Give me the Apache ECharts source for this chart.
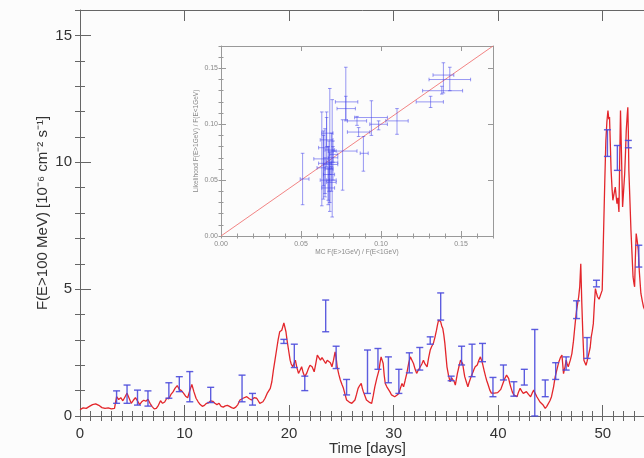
<!DOCTYPE html>
<html><head><meta charset="utf-8">
<script src="https://cdn.jsdelivr.net/npm/echarts@6/dist/echarts.min.js"></script>
<style>html,body{margin:0;padding:0;background:#fcfcfc}#c{width:644px;height:458px}</style>
</head><body><div id="c"></div>
<script>
// ---- light curve (days, flux 1e-6 cm^-2 s^-1) ----
const times = [0,0.3,0.6,0.9,1.2,1.5,1.8,2.1,2.4,2.7,3.0,3.3,
3.5,3.7,3.9,4.1,4.3,4.5,4.7,4.9,5.1,5.3,5.5,5.7,5.9,6.1,6.3,6.5,6.7,6.9,7.1,7.3,7.5,7.7,7.9,8.1,8.3,8.5,8.7,8.9,9.1,9.3,9.5,9.7,9.9,10.1,10.3,10.5,10.7,10.9,11.1,11.3,11.5,11.7,11.9,12.1,12.3,12.5,12.7,12.9,13.1,13.3,13.5,13.7,13.9,14.1,14.3,14.5,14.7,14.9,15.1,
15.3,15.6,15.95,16.2,16.4,16.65,16.9,17.05,17.2,17.5,17.7,17.9,18.05,18.2,18.35,18.5,18.65,18.8,18.95,19.1,19.3,19.5,19.7,19.8,19.9,20.1,20.2,20.35,20.5,20.6,20.75,20.9,21.05,21.2,21.35,21.5,21.7,21.85,22.0,22.2,22.4,22.55,22.7,22.85,23.0,23.15,23.3,23.5,23.65,23.8,23.95,24.1,24.25,24.4,24.5,24.6,24.75,24.9,25.05,25.2,25.35,25.5,25.75,26.0,26.15,26.3,26.45,26.6,26.75,26.9,27.0,27.1,27.25,27.4,27.65,27.9,28.05,28.2,28.4,28.6,28.7,28.8,28.9,29.0,29.1,29.2,29.35,29.5,29.65,29.8,29.95,30.1,30.3,30.5,30.65,30.8,30.95,31.1,31.26,31.45,
31.6,31.75,31.9,32.05,32.2,32.35,32.5,32.7,32.85,33.0,33.2,33.35,33.5,33.65,33.8,33.95,34.1,34.2,34.3,34.4,34.5,34.6,34.7,34.8,34.9,35.0,35.1,35.25,35.4,35.55,35.7,35.8,35.9,36.0,36.1,36.25,36.4,36.5,36.6,36.7,36.8,36.95,37.1,37.2,37.3,37.45,37.6,37.7,37.8,37.9,38.0,38.15,38.3,38.4,38.5,38.65,38.8,38.9,39.0,39.1,39.2,39.35,39.5,39.65,39.8,39.95,40.1,40.25,40.4,40.6,40.8,40.9,41.0,41.1,41.2,41.35,41.5,41.65,41.8,41.95,42.1,42.25,42.4,42.55,42.7,42.9,43.1,43.25,43.4,43.55,43.7,43.85,44.0,
44.15,44.3,44.5,44.65,44.8,44.95,45.1,45.3,45.45,45.6,45.8,45.95,46.1,46.25,46.4,46.5,46.6,46.7,46.9,47.05,47.2,47.3,47.4,47.5,47.6,47.7,47.8,47.9,48.0,48.1,48.2,48.3,48.4,48.5,48.65,48.8,48.9,49.0,49.1,49.2,49.3,49.4,49.5,49.65,49.8,49.95,50.1,50.2,50.3,50.4,50.5,50.58,50.65,50.72,50.8,50.9,50.97,51.1,51.2,51.3,51.36,51.45,51.55,51.62,51.7,51.8,51.9,52.0,52.1,52.18,52.25,52.35,52.4,52.45,52.5,52.6,52.7,52.8,52.9,53.0,53.05,53.12,53.2,53.3,53.4,53.5,53.65,53.8,53.9,54.1,54.3];
const flux = [0.25,0.32,0.3,0.38,0.45,0.48,0.42,0.33,0.3,0.32,0.28,0.3,
0.76,0.65,0.72,0.6,0.75,0.9,0.7,0.5,0.62,0.72,0.6,0.45,0.56,0.62,0.58,0.66,0.5,0.37,0.28,0.3,0.42,0.6,0.5,0.55,0.7,0.68,0.85,0.95,1.1,1.2,1.05,1.0,0.9,0.78,0.72,1.0,1.24,0.95,0.7,0.56,0.45,0.38,0.42,0.5,0.52,0.6,0.58,0.5,0.45,0.5,0.38,0.35,0.4,0.42,0.38,0.33,0.3,0.35,0.45,
0.63,0.7,0.76,0.68,0.63,0.72,0.7,0.6,0.5,0.56,0.7,0.89,0.95,1.09,1.35,1.81,2.2,2.6,3.0,3.32,3.38,3.67,3.32,3.0,2.73,2.2,2.05,1.94,2.1,2.2,1.9,1.68,1.8,1.94,1.7,1.55,1.7,1.87,2.0,1.94,1.74,2.05,2.4,2.3,2.2,2.3,2.27,2.07,2.2,2.27,2.1,1.94,2.2,2.53,2.3,1.94,1.65,1.42,1.25,1.09,0.85,0.63,0.55,0.5,0.55,0.63,0.85,1.09,1.2,1.28,1.1,0.96,0.8,0.63,0.55,0.5,0.8,1.15,1.5,1.81,2.1,2.33,2.2,2.07,1.6,1.28,1.15,1.09,0.95,0.83,0.8,0.76,0.82,0.89,1.1,1.28,1.15,1.4,1.68,2.1,
2.33,2.2,2.07,1.85,1.68,1.8,1.87,2.05,2.2,2.05,1.94,2.3,2.6,2.75,2.86,3.1,3.38,3.6,3.78,3.72,3.71,3.55,3.45,3.2,2.86,2.4,1.94,1.6,1.35,1.5,1.55,1.35,1.22,1.45,1.68,1.95,2.2,2.15,2.07,1.8,1.55,1.35,1.15,1.3,1.42,1.6,1.74,1.85,1.94,2.0,2.01,2.2,2.33,2.2,2.07,1.8,1.55,1.4,1.28,1.15,1.02,0.9,0.83,0.9,0.96,0.92,0.89,1.05,1.22,1.45,1.61,1.55,1.48,1.3,1.15,0.95,0.83,0.8,0.76,0.95,1.09,0.98,0.89,0.93,0.96,0.85,0.76,0.9,1.02,0.88,0.76,0.7,0.55,
0.48,0.43,0.3,0.38,0.43,0.6,0.76,1.15,1.54,1.8,2.13,2.3,2.4,1.67,1.95,2.2,2.05,1.94,2.2,2.46,2.95,3.38,3.8,4.17,4.43,4.7,5.09,6.0,4.43,3.2,2.2,2.1,2.0,2.15,2.2,2.7,3.12,3.35,3.64,4.4,5.02,4.85,4.7,4.6,4.56,4.96,7.58,9.3,10.86,11.6,12.04,11.7,11.78,10.8,9.68,8.9,8.5,8.8,9.02,8.6,8.37,8.6,8.04,10.0,12.04,10.2,8.24,8.9,9.55,10.4,11.25,11.9,12.17,11.2,9.68,8.5,7.32,6.4,5.48,5.2,5.09,6.2,7.19,6.9,6.53,5.7,4.83,4.5,4.3,4.1,3.9];

// ---- light-curve error bars ----
const errT  = [3.5,4.5,5.5,6.5,8.5,9.5,10.5,12.5,15.5,16.5,19.5,20.5,21.5,23.5,24.5,25.5,27.5,28.5,29.5,30.5,31.5,32.5,33.5,34.5,35.5,36.5,37.5,38.5,39.5,40.5,41.5,42.5,43.5,44.5,45.5,46.5,47.5,48.5,49.4,50.45,51.4,52.45,53.45];
const errLo = [0.5,0.5,0.43,0.39,0.7,0.96,0.56,0.53,0.56,0.43,2.86,1.91,1.0,3.32,1.87,0.83,0.89,1.84,1.31,0.89,1.7,1.81,2.83,3.78,1.39,2.01,1.55,2.14,0.76,1.42,0.78,1.22,0,0.76,1.44,1.81,3.84,2.27,5.09,10.23,9.68,10.57,5.87];
const errHi = [0.99,1.22,1.02,0.99,1.31,1.55,1.75,1.13,1.61,0.89,3.02,2.83,1.57,4.57,2.75,1.44,2.6,2.66,2.33,1.84,2.49,2.7,3.12,4.85,1.57,2.75,2.83,2.86,1.52,2.01,1.35,1.84,3.41,1.42,2.1,2.33,4.54,3.09,5.35,11.28,10.66,10.86,6.73];

// ---- inset: MC vs likelihood hardness ratio ----
const insX   = [0.051,0.063,0.064,0.065,0.066,0.067,0.068,0.068,0.0695,0.069,0.070,0.066,0.067,0.065,0.069,0.068,0.070,0.064,0.0675,0.076,0.078,0.078,0.085,0.086,0.089,0.094,0.0985,0.110,0.131,0.139,0.138,0.143];
const insXLo = [0.0495,0.058,0.060,0.061,0.063,0.064,0.065,0.066,0.066,0.067,0.067,0.062,0.063,0.062,0.066,0.064,0.068,0.061,0.065,0.070,0.0715,0.0725,0.079,0.079,0.087,0.0835,0.093,0.103,0.122,0.130,0.126,0.1325];
const insXHi = [0.055,0.067,0.068,0.069,0.070,0.071,0.071,0.072,0.073,0.072,0.073,0.070,0.071,0.068,0.072,0.073,0.073,0.067,0.070,0.085,0.0855,0.084,0.091,0.093,0.092,0.104,0.104,0.117,0.139,0.156,0.151,0.1455];
const insY   = [0.051,0.069,0.061,0.065,0.092,0.055,0.077,0.048,0.066,0.076,0.070,0.086,0.043,0.050,0.050,0.064,0.073,0.079,0.060,0.076,0.120,0.114,0.103,0.093,0.074,0.106,0.100,0.103,0.120,0.140,0.130,0.144];
const insYLo = [0.028,0.027,0.033,0.038,0.080,0.032,0.022,0.030,0.017,0.060,0.050,0.062,0.028,0.035,0.040,0.055,0.066,0.045,0.040,0.041,0.104,0.103,0.099,0.089,0.058,0.090,0.095,0.091,0.115,0.128,0.127,0.130];
const insYHi = [0.074,0.111,0.090,0.096,0.106,0.080,0.132,0.066,0.122,0.092,0.085,0.111,0.060,0.070,0.062,0.075,0.080,0.094,0.085,0.104,0.151,0.125,0.107,0.097,0.089,0.121,0.103,0.114,0.125,0.155,0.134,0.151];
const diagLine = [0, 0.17];

const FONT = 'Liberation Sans, Arial, Helvetica, sans-serif';
const AX = '#666';
const chart = echarts.init(document.getElementById('c'), null, {renderer:'canvas'});

function xA(grid, pos, min, max, iv, len, opts) {
  return Object.assign({type:'value', gridIndex:grid, position:pos, min:min, max:max, interval:iv,
    axisLine:{show:true, onZero:false, lineStyle:{color:AX, width:1}},
    axisTick:{show:true, inside:true, length:len, lineStyle:{color:AX, width:1}},
    axisLabel:{show:false}, splitLine:{show:false}}, opts||{});
}
const mainRect = {left:80, top:10, width:575, height:406, containLabel:false, outerBoundsMode:'none'};
const insRect = {left:221, top:46, width:272, height:190, containLabel:false, outerBoundsMode:'none'};
const INS = '#999';

const option = {
  backgroundColor:'#fcfcfc',
  animation:false,
  textStyle:{fontFamily:FONT},
  grid:[Object.assign({}, mainRect), Object.assign({}, mainRect), Object.assign({}, insRect), Object.assign({}, insRect)],
  xAxis:[
    xA(0,'bottom',0,55,10,11,{axisLabel:{show:true, margin:10, fontSize:15, color:'#333', fontFamily:FONT, showMaxLabel:false},
      name:'Time [days]', nameLocation:'middle', nameGap:25, nameMoveOverlap:false, nameTextStyle:{fontSize:15, color:'#333', fontFamily:FONT}}),
    xA(0,'top',0,55,10,11),
    xA(1,'bottom',0,55,1,5,{axisLine:{show:false}}),
    xA(1,'top',0,55,1,5,{axisLine:{show:false}}),
    xA(2,'bottom',0,0.17,0.05,5,{axisLine:{show:true,onZero:false,lineStyle:{color:INS}}, axisTick:{show:true,inside:true,length:5,lineStyle:{color:INS}},
      axisLabel:{show:true, margin:5, fontSize:7, color:'#888', fontFamily:FONT, showMaxLabel:false, formatter:v=>v.toFixed(2)},
      name:'MC F(E>1GeV) / F(E<1GeV)', nameLocation:'middle', nameGap:13, nameMoveOverlap:false, nameTextStyle:{fontSize:6.5, color:'#888', fontFamily:FONT}}),
    xA(2,'top',0,0.17,0.05,5,{axisLine:{show:true,onZero:false,lineStyle:{color:INS}}, axisTick:{show:true,inside:true,length:5,lineStyle:{color:INS}}}),
    xA(3,'bottom',0,0.17,0.01,2.5,{axisLine:{show:false}, axisTick:{show:true,inside:true,length:2.5,lineStyle:{color:INS}}}),
    xA(3,'top',0,0.17,0.01,2.5,{axisLine:{show:false}, axisTick:{show:true,inside:true,length:2.5,lineStyle:{color:INS}}})
  ],
  yAxis:[
    xA(0,'left',0,16,5,11,{axisLabel:{show:true, margin:8, fontSize:15, color:'#333', fontFamily:FONT, showMaxLabel:false},
      name:'F(E>100 MeV) [10⁻⁶ cm⁻² s⁻¹]', nameLocation:'middle', nameGap:30, nameMoveOverlap:false, nameTextStyle:{fontSize:15, color:'#333', fontFamily:FONT}}),
    xA(0,'right',0,16,5,11),
    xA(1,'left',0,16,1,5,{axisLine:{show:false}}),
    xA(1,'right',0,16,1,5,{axisLine:{show:false}}),
    xA(2,'left',0,0.17,0.05,5,{axisLine:{show:true,onZero:false,lineStyle:{color:INS}}, axisTick:{show:true,inside:true,length:5,lineStyle:{color:INS}},
      axisLabel:{show:true, margin:3, fontSize:7, color:'#888', fontFamily:FONT, showMaxLabel:false, formatter:v=>v.toFixed(2)},
      name:'Likelihood F(E>1GeV) / F(E<1GeV)', nameLocation:'middle', nameGap:21, nameMoveOverlap:false, nameTextStyle:{fontSize:6.5, color:'#888', fontFamily:FONT}}),
    xA(2,'right',0,0.17,0.05,5,{axisLine:{show:true,onZero:false,lineStyle:{color:INS}}, axisTick:{show:true,inside:true,length:5,lineStyle:{color:INS}}}),
    xA(3,'left',0,0.17,0.01,2.5,{axisLine:{show:false}, axisTick:{show:true,inside:true,length:2.5,lineStyle:{color:INS}}}),
    xA(3,'right',0,0.17,0.01,2.5,{axisLine:{show:false}, axisTick:{show:true,inside:true,length:2.5,lineStyle:{color:INS}}})
  ],
  series:[
    {type:'line', xAxisIndex:0, yAxisIndex:0, showSymbol:false, symbol:'none',
     data: times.map((t,i)=>[t, flux[i]]), lineStyle:{color:'#e3262b', width:1.3}, z:2},
    {type:'custom', xAxisIndex:0, yAxisIndex:0, z:3,
     data: errT.map((t,i)=>[t, errLo[i], errHi[i]]),
     encode:{x:0, y:[1,2]},
     renderItem:function(params, api){
       const t=api.value(0), lo=api.value(1), hi=api.value(2);
       const a=api.coord([t,hi]), b=api.coord([t,lo]); const w=3.5;
       const st={stroke:'rgba(75,75,220,0.9)', lineWidth:1.4};
       return {type:'group', children:[
         {type:'line', shape:{x1:a[0],y1:a[1],x2:b[0],y2:b[1]}, style:st},
         {type:'line', shape:{x1:a[0]-w,y1:a[1],x2:a[0]+w,y2:a[1]}, style:st},
         {type:'line', shape:{x1:b[0]-w,y1:b[1],x2:b[0]+w,y2:b[1]}, style:st}
       ]};
     }},
    {type:'line', xAxisIndex:4, yAxisIndex:4, showSymbol:false, symbol:'none',
     data: [[diagLine[0],diagLine[0]],[diagLine[1],diagLine[1]]], lineStyle:{color:'rgba(240,110,110,0.85)', width:1}, z:4},
    {type:'custom', xAxisIndex:4, yAxisIndex:4, z:5,
     data: insX.map((x,i)=>[x, insXLo[i], insXHi[i], insY[i], insYLo[i], insYHi[i]]),
     encode:{x:[0,1,2], y:[3,4,5]},
     renderItem:function(params, api){
       const x=api.value(0), xl=api.value(1), xh=api.value(2), y=api.value(3), yl=api.value(4), yh=api.value(5);
       const L=api.coord([xl,y]), R=api.coord([xh,y]), T=api.coord([x,yh]), B=api.coord([x,yl]);
       const c=1.8; const st={stroke:'rgba(70,70,235,0.55)', lineWidth:1};
       return {type:'group', children:[
         {type:'line', shape:{x1:L[0],y1:L[1],x2:R[0],y2:R[1]}, style:st},
         {type:'line', shape:{x1:T[0],y1:T[1],x2:B[0],y2:B[1]}, style:st},
         {type:'line', shape:{x1:L[0],y1:L[1]-c,x2:L[0],y2:L[1]+c}, style:st},
         {type:'line', shape:{x1:R[0],y1:R[1]-c,x2:R[0],y2:R[1]+c}, style:st},
         {type:'line', shape:{x1:T[0]-c,y1:T[1],x2:T[0]+c,y2:T[1]}, style:st},
         {type:'line', shape:{x1:B[0]-c,y1:B[1],x2:B[0]+c,y2:B[1]}, style:st}
       ]};
     }}
  ]
};
chart.setOption(option);
</script></body></html>
